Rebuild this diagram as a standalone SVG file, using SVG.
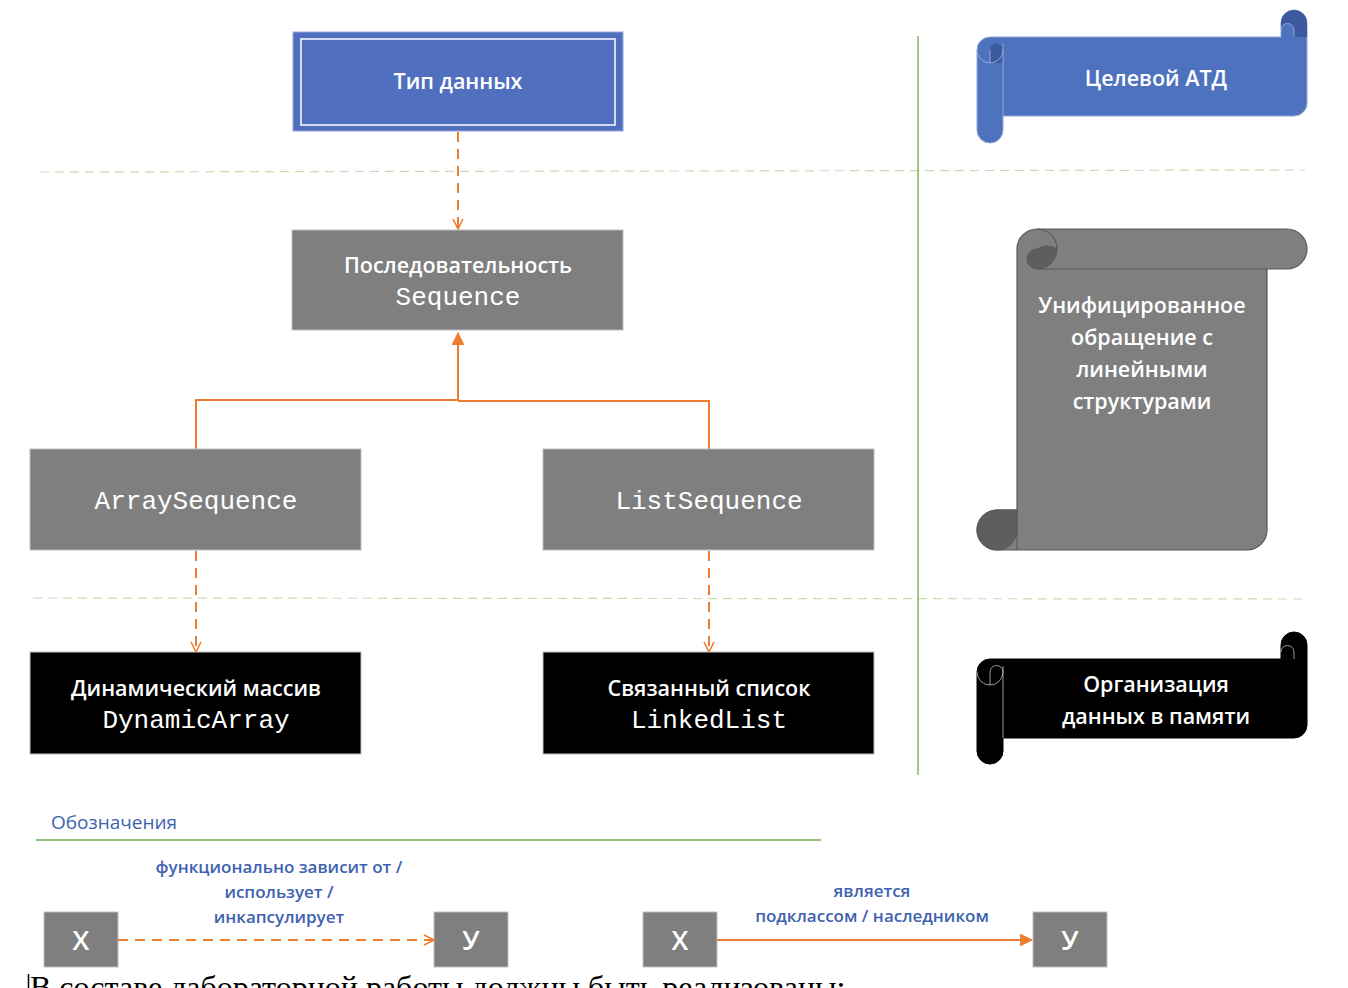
<svg xmlns="http://www.w3.org/2000/svg" width="1348" height="988" viewBox="0 0 1348 988">
<defs>
<style>
.t{font-family:"Open Sans","Noto Sans","Liberation Sans",sans-serif;fill:#fff;text-anchor:middle;font-weight:600}
.m{font-family:"Liberation Mono","Courier New",monospace;fill:#fff;text-anchor:middle;font-size:26px}
.lbl{font-family:"Open Sans","Noto Sans","Liberation Sans",sans-serif;fill:#3E62B0;text-anchor:middle;font-size:17px;font-weight:600}
.gray{fill:#7F7F7F;stroke:#BFBFBF;stroke-width:1}
.blk{fill:#000;stroke:#BFBFBF;stroke-width:1}
.sep{stroke:#C5DDB4;stroke-width:1.2;stroke-dasharray:9 6;fill:none}
.dep{stroke:#ED7D31;stroke-width:2;stroke-dasharray:10 7;fill:none}
.inh{stroke:#ED7D31;stroke-width:2;fill:none}
</style>
<marker id="open" viewBox="0 0 12 12" refX="11" refY="6" markerWidth="12" markerHeight="12" markerUnits="userSpaceOnUse" orient="auto">
<path d="M1,1 L11,6 L1,11" fill="none" stroke="#ED7D31" stroke-width="1.6"/>
</marker>
<marker id="fill" viewBox="0 0 12 12" refX="11" refY="6" markerWidth="13" markerHeight="13" markerUnits="userSpaceOnUse" orient="auto">
<path d="M0,0 L12,6 L0,12 Z" fill="#ED7D31"/>
</marker>
</defs>
<rect width="1348" height="988" fill="#fff"/>

<g id="separators">
<line class="sep" x1="40" y1="172" x2="1305" y2="170"/>
<line class="sep" x1="33" y1="598" x2="1303" y2="599"/>
<line x1="918" y1="36" x2="918" y2="775" stroke="#8DB86B" stroke-width="1.6"/>
</g>

<g id="connectors">
<line class="dep" x1="458" y1="132" x2="458" y2="229" marker-end="url(#open)"/>
<path class="inh" d="M196,449 V400 H458 M709,449 V401 H458 M458,401 V333" marker-end="url(#fill)"/>
<line class="dep" x1="196" y1="551" x2="196" y2="652" marker-end="url(#open)"/>
<line class="dep" x1="709" y1="551" x2="709" y2="652" marker-end="url(#open)"/>
</g>

<g id="node-type">
<rect x="293" y="32" width="330" height="99" fill="#5070BF" stroke="#8EA6DA" stroke-width="1"/>
<rect x="301" y="39" width="314" height="86" fill="none" stroke="#fff" stroke-width="1.5"/>
<text class="t" x="458" y="89" font-size="21.5">Тип данных</text>
</g>

<g id="node-sequence">
<rect class="gray" x="292" y="230" width="331" height="100"/>
<text class="t" x="458" y="273" font-size="21.5">Последовательность</text>
<text class="m" x="458" y="305">Sequence</text>
</g>

<g id="node-arrayseq">
<rect class="gray" x="30" y="449" width="331" height="101"/>
<text class="m" x="196" y="509">ArraySequence</text>
</g>

<g id="node-listseq">
<rect class="gray" x="543" y="449" width="331" height="101"/>
<text class="m" x="709" y="509">ListSequence</text>
</g>

<g id="node-dynarray">
<rect class="blk" x="30" y="652" width="331" height="102"/>
<text class="t" x="196" y="696" font-size="21.5">Динамический массив</text>
<text class="m" x="196" y="728">DynamicArray</text>
</g>

<g id="node-linkedlist">
<rect class="blk" x="543" y="652" width="331" height="102"/>
<text class="t" x="709" y="696" font-size="21.5">Связанный список</text>
<text class="m" x="709" y="728">LinkedList</text>
</g>

<g id="scroll-target">
<path d="M977,50 A13,13 0 0 1 990,37 L1281,37 L1281,23 A13,13 0 0 1 1307,23 L1307,103 A13,13 0 0 1 1294,116 L1003,116 L1003,130 A13,13 0 0 1 977,130 Z" fill="#4F72BF" stroke="#8EA6DA" stroke-width="1"/>
<path d="M1281,23 A13,13 0 0 1 1307,23 L1307,37 L1294,37 L1294,30 A6.5,6.5 0 0 0 1281,30 Z" fill="#3D5A9E"/>
<path d="M990,63 L990,50 A6.5,6.5 0 0 1 1003,50 L1003,63 Z" fill="#3D5A9E"/>
<path d="M977,50 A13,13 0 0 0 1003,50 M1003,44 V116 M1281,30 A6.5,6.5 0 0 1 1294,30 V37 M990,50 V63" fill="none" stroke="#8EA6DA" stroke-width="1"/>
<text class="t" x="1156" y="86" font-size="21.5">Целевой АТД</text>
</g>

<g id="scroll-unified">
<path d="M1037,229 L1287,229 A20,20 0 0 1 1287,269 L1267,269 L1267,530 A20,20 0 0 1 1247,550 L997,550 A20,20 0 0 1 997,510 L1017,510 L1017,249 A20,20 0 0 1 1037,229 Z" fill="#7F7F7F" stroke="#595959" stroke-width="1.2"/>
<path d="M1037,269 A10,10 0 0 1 1037,249 A20,20 0 0 1 1057,249 A20,20 0 0 1 1037,269 Z" fill="#5E5E5E" stroke="#595959" stroke-width="1"/>
<path d="M1057,249 A20,20 0 0 0 1037,229 M1037,269 H1267" fill="none" stroke="#595959" stroke-width="1.2"/>
<path d="M997,510 A20,20 0 1 0 1017,530 L1017,510 Z" fill="#5E5E5E" stroke="#595959" stroke-width="1"/>
<path d="M997,530 A10,10 0 0 0 1007,520 A10,10 0 0 0 997,510 M1017,510 V550" fill="none" stroke="#595959" stroke-width="1"/>
<text class="t" x="1142" y="313" font-size="21.5">Унифицированное</text>
<text class="t" x="1142" y="345" font-size="21.5">обращение с</text>
<text class="t" x="1142" y="377" font-size="21.5">линейными</text>
<text class="t" x="1142" y="409" font-size="21.5">структурами</text>
</g>

<g id="scroll-memory">
<path d="M977,672 A13,13 0 0 1 990,659 L1281,659 L1281,645 A13,13 0 0 1 1307,645 L1307,725 A13,13 0 0 1 1294,738 L1003,738 L1003,751 A13,13 0 0 1 977,751 Z" fill="#000" stroke="#000" stroke-width="1"/>
<path d="M977,672 A13,13 0 0 0 1003,672 M1003,666 V738 M1281,652 A6.5,6.5 0 0 1 1294,652 V659 M990,672 V685 M990,672 A6.5,6.5 0 0 1 1003,672" fill="none" stroke="#BFBFBF" stroke-width="0.8"/>
<text class="t" x="1156" y="692" font-size="21.5">Организация</text>
<text class="t" x="1156" y="724" font-size="21.5">данных в памяти</text>
</g>

<g id="legend">
<text x="51" y="829" font-family="Open Sans, Noto Sans, Liberation Sans, sans-serif" font-size="19" fill="#3E62B0">Обозначения</text>
<line x1="36" y1="840" x2="821" y2="840" stroke="#70AD47" stroke-width="1.5"/>
</g>

<g id="legend-x1">
<rect class="gray" x="44" y="912" width="74" height="55"/>
<text class="t" x="81" y="950" font-size="27">X</text>
</g>
<g id="legend-y1">
<rect class="gray" x="434" y="912" width="74" height="55"/>
<text class="t" x="471" y="950" font-size="27">У</text>
</g>
<g id="legend-x2">
<rect class="gray" x="643" y="912" width="74" height="55"/>
<text class="t" x="680" y="950" font-size="27">X</text>
</g>
<g id="legend-y2">
<rect class="gray" x="1033" y="912" width="74" height="55"/>
<text class="t" x="1070" y="950" font-size="27">У</text>
</g>

<g id="legend-connectors">
<line class="dep" x1="118" y1="940" x2="434" y2="940" marker-end="url(#open)"/>
<line class="inh" x1="717" y1="940" x2="1032" y2="940" marker-end="url(#fill)"/>
<text class="lbl" x="279" y="873">функционально зависит от /</text>
<text class="lbl" x="279" y="898">использует /</text>
<text class="lbl" x="279" y="923">инкапсулирует</text>
<text class="lbl" x="872" y="897">является</text>
<text class="lbl" x="872" y="922">подклассом / наследником</text>
</g>

<g id="bottom-text">
<line x1="28.5" y1="974" x2="28.5" y2="988" stroke="#000" stroke-width="1.5"/>
<text x="30" y="998" font-family="Liberation Serif, Times New Roman, serif" font-size="32" fill="#000">В составе лабораторной работы должны быть реализованы:</text>
</g>
</svg>
